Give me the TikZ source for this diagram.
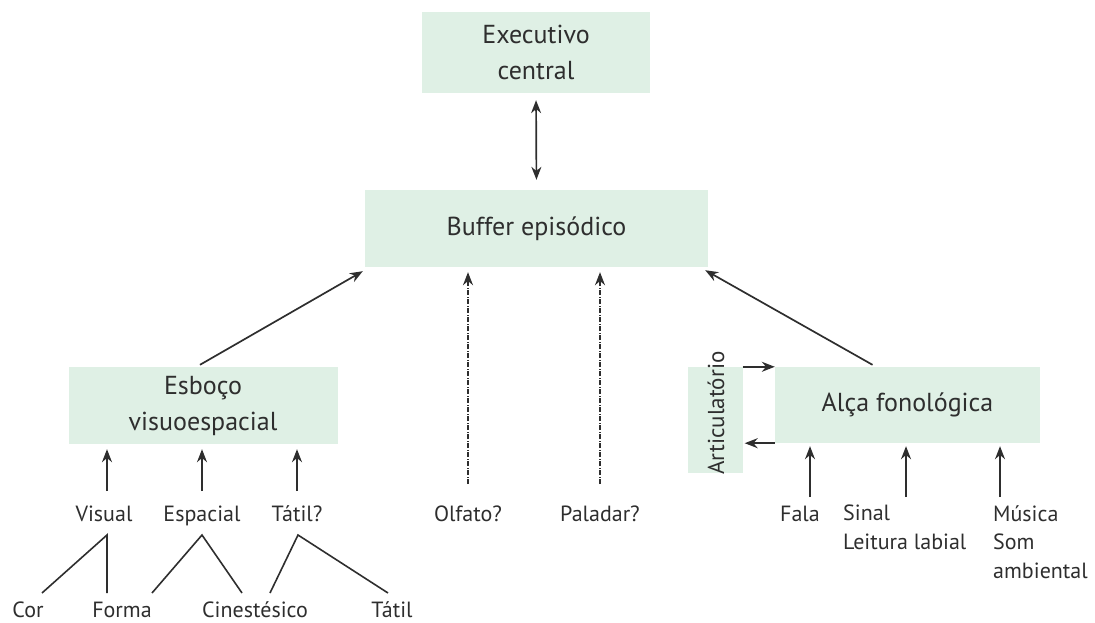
\documentclass[tikz,border=0pt]{standalone}
\usepackage{fontspec}
\setmainfont{PT Sans}
\usetikzlibrary{arrows.meta}
\definecolor{boxfill}{HTML}{DFF0E5}
\definecolor{ink}{HTML}{2E2E2E}
\begin{document}
\begin{tikzpicture}[x=1pt,y=-1pt, text=ink,
  bfont/.style={font=\fontsize{26}{36}\selectfont},
  lfont/.style={font=\fontsize{22}{28.5}\selectfont},
  box/.style={fill=boxfill, inner sep=0pt, align=center, bfont},
  lbl/.style={inner sep=0pt, align=left, lfont, anchor=base},
  arr/.style={draw=ink, line width=1.7pt, -{Stealth[length=13pt,width=10pt]}},
  dd/.style={arr, dash pattern=on 5pt off 1.5pt on 1pt off 1.5pt},
  ln/.style={draw=ink, line width=1.6pt}]
\useasboundingbox (0,0) rectangle (1095,623);
% boxes
\node[box, minimum width=228pt, minimum height=81pt] (exec) at (536,52.5) {Executivo\\central};
\node[box, minimum width=343pt, minimum height=77pt] (buf) at (536.5,228.5) {Buffer episódico};
\node[box, minimum width=269pt, minimum height=77pt] (esb) at (203,405.5) {Esboço\\visuoespacial};
\node[box, minimum width=265pt, minimum height=76pt] (alca) at (907.5,405) {Alça fonológica};
\node[box, minimum width=55pt, minimum height=106pt] (art) at (715,420) {};
\node[inner sep=0pt, rotate=90, font=\fontsize{23}{24}\selectfont] (artt) at (716,413) {Articulatório};
% top connectors
\draw[arr, {Stealth[length=13pt,width=10pt]}-{Stealth[length=13pt,width=10pt]}, shorten <=7pt, shorten >=10pt] (exec.south) -- (buf.north);
\draw[arr] ([xshift=-3pt,yshift=2pt]esb.north) -- ([xshift=-2pt,yshift=-4pt]buf.south west);
\draw[arr] ([xshift=-35pt,yshift=2pt]alca.north) -- ([xshift=-3pt,yshift=-3pt]buf.south east);
% articulatory loop
\draw[arr] (art.east |- alca.north) -- (alca.north west);
\draw[arr] (alca.south west) -- ([xshift=2pt]art.east |- alca.south);
% left labels
\node[lbl] (vis) at (104,521) {Visual};
\node[lbl] (esp) at (202,521) {Espacial};
\node[lbl] (tat) at (297,521) {Tátil?};
\coordinate (visA) at (107,491);
\coordinate (espA) at (202,491);
\coordinate (tatA) at (297,491);
\draw[arr, shorten >=5pt] (visA) -- (esb.south -| visA);
\draw[arr, shorten >=5pt] (espA) -- (esb.south -| espA);
\draw[arr, shorten >=5pt] (tatA) -- (esb.south -| tatA);
% bottom labels
\node[lbl] (cor) at (28,617) {Cor};
\node[lbl] (forma) at (122,617) {Forma};
\node[lbl] (cin) at (255,617) {Cinestésico};
\node[lbl] (tatil) at (392,617) {Tátil};
\coordinate (visb) at (107,535);
\coordinate (espb) at (202,535);
\coordinate (tatb) at (298,535);
\coordinate (corT) at (42,593);
\coordinate (formaT) at (107,593);
\coordinate (cinL) at (152,593);
\coordinate (cinR) at (242,593);
\coordinate (tatL) at (270,593);
\coordinate (tatR) at (388,593);
\draw[ln] (corT) -- (visb) -- (formaT);
\draw[ln] (cinL) -- (espb) -- (cinR);
\draw[ln] (tatL) -- (tatb) -- (tatR);
% middle dashed
\node[lbl] (olf) at (468,521) {Olfato?};
\node[lbl] (pal) at (600,521) {Paladar?};
\coordinate (olfA) at (468,484);
\coordinate (palA) at (600,484);
\draw[dd, shorten >=5pt] (olfA) -- (buf.south -| olfA);
\draw[dd, shorten >=5pt] (palA) -- (buf.south -| palA);
% right labels
\node[lbl] (fala) at (800,521) {Fala};
\node[lbl, anchor=north west] (sinal) at (843,505) {Sinal\\Leitura labial};
\node[lbl, anchor=north west] (musica) at (993,505) {Música\\Som\\ambiental};
\coordinate (falaA) at (810,497);
\coordinate (sinalA) at (906,497);
\coordinate (musA) at (1000,497);
\draw[arr, shorten >=3pt] (falaA) -- (alca.south -| falaA);
\draw[arr, shorten >=3pt] (sinalA) -- (alca.south -| sinalA);
\draw[arr, shorten >=3pt] (musA) -- (alca.south -| musA);
\end{tikzpicture}
\end{document}
